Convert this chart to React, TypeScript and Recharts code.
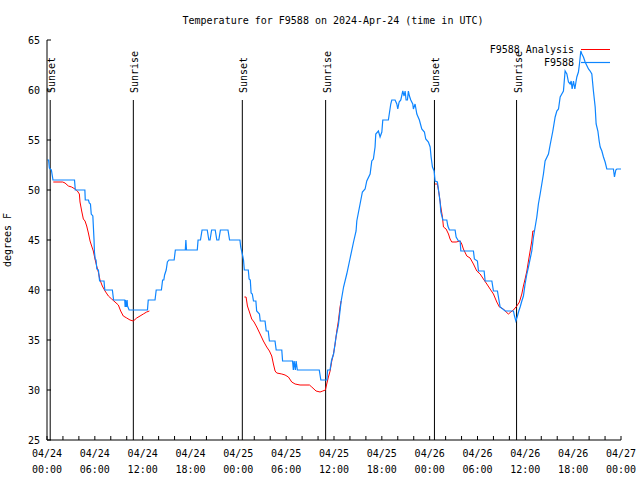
import React from 'react';
import { LineChart, Line, XAxis, YAxis, ReferenceLine } from 'recharts';

const FONT = '"DejaVu Sans Mono", "Liberation Mono", monospace';
const BLUE = '#0d85ff';
const RED = '#ff0000';

// hours since 04/24 00:00 UTC
const xTickHours = [0, 2, 4, 6, 8, 10, 12, 14, 16, 18, 20, 22, 24, 26, 28, 30, 32, 34, 36, 38, 40, 42, 44, 46, 48, 50, 52, 54, 56, 58, 60, 62, 64, 66, 68, 70, 72];
const xLabelHours = [0, 6, 12, 18, 24, 30, 36, 42, 48, 54, 60, 66, 72];
const xTickDates = ['04/24', '04/24', '04/24', '04/24', '04/25', '04/25', '04/25', '04/25', '04/26', '04/26', '04/26', '04/26', '04/27'];
const xTickTimes = ['00:00', '06:00', '12:00', '18:00', '00:00', '06:00', '12:00', '18:00', '00:00', '06:00', '12:00', '18:00', '00:00'];
const yTicks = [25, 30, 35, 40, 45, 50, 55, 60, 65];

const sunsetHours = [0.4, 24.5, 48.6];
const sunriseHours = [10.83, 34.95, 58.9];
const sunLineTopTemp = 59;

// F9588 observations [hour, degF]
const f9588: [number, number][] = [
  [0.05, 53], [0.2, 53], [0.3, 52.2], [0.55, 52], [0.75, 51], [3.45, 51], [3.55, 50], [4.75, 50], [4.8, 49], [5.2, 49],
  [5.3, 48.7], [5.45, 48.6], [5.55, 47.6], [5.75, 47.4], [5.8, 46.6], [5.9, 45], [5.95, 43.8], [6.05, 43.1], [6.15, 43], [6.25, 42.1],
  [6.45, 42], [6.55, 41.2], [6.6, 40.9], [7.15, 40.9], [7.25, 40], [8.2, 40], [8.35, 39], [9.75, 39], [9.8, 38.3], [9.85, 39],
  [9.95, 38.3], [10.05, 39], [10.1, 38.4], [10.3, 38], [12.6, 38], [12.7, 39], [13.55, 39], [13.7, 40], [14.35, 40], [14.5, 41],
  [14.65, 41], [14.75, 41.5], [14.95, 42], [15.1, 42.8], [15.3, 43], [15.95, 43], [16.1, 44], [17.35, 44], [17.42, 45], [17.5, 44],
  [18.85, 44], [18.95, 45], [19.25, 45], [19.45, 46], [20.1, 46], [20.3, 45], [20.45, 45], [20.65, 46], [21.1, 46], [21.3, 45],
  [21.55, 45], [21.75, 46], [22.7, 46], [22.9, 45], [24.2, 45],
  [24.3, 44.3], [24.55, 43.4], [24.65, 43], [24.75, 42], [25.25, 42], [25.35, 41.1], [25.5, 41], [25.6, 39.7], [25.75, 39.6], [25.9, 38.9],
  [26.2, 38.9], [26.3, 37.9], [26.65, 37.6], [26.75, 36.9], [27.35, 36.9], [27.5, 35.9], [27.75, 35.9], [27.9, 34.9], [28.6, 34.9], [28.75, 34],
  [29.45, 34], [29.55, 32.9], [30.8, 32.9], [30.9, 32], [31.0, 32.9], [31.15, 32], [31.25, 32.9], [31.4, 32], [34.15, 32], [34.35, 31],
  [35.1, 31], [35.2, 32], [35.5, 32], [35.7, 33], [35.95, 33.6], [36.25, 35.3], [36.55, 36.5], [36.9, 38.9], [37.2, 40.3], [37.6, 41.6],
  [38.0, 43.1], [38.45, 44.8], [38.77, 45.9], [38.86, 46.9], [39.27, 48.6], [39.56, 49.8], [39.9, 50.1], [40.11, 50.9], [40.53, 51.6], [40.74, 52.9],
  [40.94, 53.1], [41.15, 54.3], [41.24, 55.6], [41.57, 55.9], [41.78, 55.3], [42.0, 55.8], [42.12, 57], [42.82, 57], [43.12, 58.6], [43.25, 59],
  [43.66, 59], [43.88, 58.6], [44.0, 58.1], [44.17, 58.8], [44.38, 59], [44.63, 59.9], [44.79, 59.4], [44.92, 59.9], [45.04, 59], [45.21, 59],
  [45.33, 59.9], [45.46, 59.4], [45.63, 59], [45.88, 58.6], [45.96, 58.1], [46.17, 58.6], [46.39, 57.6], [46.71, 57], [47.01, 56.1], [47.34, 55.8],
  [47.51, 55.1], [47.84, 54.8], [48.06, 54.3], [48.18, 53.3], [48.35, 52.3], [48.56, 51.9], [48.68, 50.9], [48.97, 50.8], [49.18, 49.6], [49.31, 48.8],
  [49.4, 47.8], [49.65, 47], [50.15, 47], [50.28, 46.4], [50.48, 46], [51.19, 46], [51.32, 45.3], [51.61, 44.9], [51.82, 44.9], [51.91, 43.9],
  [53.49, 43.9], [53.61, 43.1], [53.99, 42.9], [54.12, 41.9], [54.83, 41.9], [54.96, 40.9], [55.8, 40.9], [56.0, 39.9], [56.5, 39.9], [56.71, 38.9],
  [56.84, 38.3], [57.47, 37.9], [58.51, 37.9], [58.64, 37.4], [58.81, 36.9], [59.01, 37.4], [59.18, 37.9], [59.35, 38.3], [59.56, 38.9], [59.76, 39.4],
  [59.97, 40.6], [60.19, 41.6], [60.39, 42.3], [60.81, 43.9], [61.02, 45.3], [61.23, 46.3], [61.44, 47.3], [61.64, 48.6], [61.86, 49.6], [62.27, 51.6],
  [62.48, 52.9], [62.9, 53.6], [63.11, 54.5], [63.45, 55.9], [63.74, 57.3], [63.95, 57.9], [64.16, 58.1], [64.37, 59.3], [64.78, 59.9], [64.99, 61.9],
  [65.21, 61.6], [65.41, 60.8], [65.62, 60.6], [65.75, 60.9], [65.87, 60.1], [66.04, 60.9], [66.21, 60.1], [66.37, 60.9], [66.46, 61.3], [66.66, 61.8],
  [66.79, 62.6], [66.96, 63.9], [67.09, 63.6], [67.29, 63.3], [67.5, 62.8], [67.92, 62.1], [68.13, 61.9], [68.34, 61.6], [68.54, 59.9], [68.76, 58.3],
  [68.88, 56.6], [69.1, 55.9], [69.26, 54.9], [69.39, 54.3], [69.6, 53.9], [69.8, 53.3], [70.01, 52.8], [70.22, 52.1], [71.05, 52.1], [71.18, 51.3],
  [71.35, 52], [71.48, 52.1], [72, 52.1],
];

// F9588 Analysis, night 1
const analysisNight1: [number, number][] = [
  [0.79, 50.8], [1.97, 50.8], [2.26, 50.7], [2.68, 50.4], [3.09, 50.3], [3.51, 50.1], [3.81, 49.9], [4.06, 49.6], [4.14, 48.8], [4.35, 47.9],
  [4.56, 47.1], [4.77, 46.9], [4.98, 46.4], [5.19, 45.7], [5.4, 44.9], [5.6, 44.4], [5.81, 43.9], [6.02, 43.1], [6.23, 42.4], [6.44, 41.8],
  [6.65, 41], [6.94, 40.4], [7.28, 39.9], [7.7, 39.4], [8.11, 39.1], [8.53, 38.8], [8.95, 38.5], [9.24, 37.9], [9.57, 37.4], [10.0, 37.2],
  [10.41, 37], [10.83, 36.9], [11.25, 37.2], [11.67, 37.4], [12.08, 37.6], [12.5, 37.8], [12.84, 37.9],
];
// F9588 Analysis, night 2
const analysisNight2: [number, number][] = [
  [24.76, 39.3], [24.97, 39.3], [25.14, 38.4], [25.35, 37.9], [25.68, 37.1], [25.97, 36.8], [26.31, 36.3], [26.73, 35.6], [27.14, 34.9], [27.56, 34.3],
  [27.9, 33.9], [28.19, 33.4], [28.4, 32.6], [28.61, 31.9], [28.82, 31.7], [29.45, 31.6], [29.86, 31.5], [30.28, 31.3], [30.7, 30.8], [31.12, 30.6],
  [31.74, 30.5], [32.92, 30.5], [33.21, 30.3], [33.75, 29.9], [34.25, 29.8], [34.59, 29.9], [34.92, 30], [35.09, 30.6], [35.3, 31.3], [35.51, 31.9],
  [35.72, 32.9], [35.93, 33.6], [36.14, 34.6], [36.35, 35.9], [36.55, 36.9], [36.76, 38.3], [36.89, 38.9],
];
// F9588 Analysis, night 3
const analysisNight3: [number, number][] = [
  [48.68, 50.6], [48.97, 50.6], [49.18, 49.6], [49.4, 48.3], [49.6, 47.3], [49.73, 46.3], [50.06, 46.1], [50.36, 45.6], [50.56, 45.1], [50.77, 44.8],
  [51.32, 44.8], [51.82, 44.9], [52.03, 44.6], [52.23, 44.1], [52.66, 43.4], [53.07, 43.2], [53.49, 42.6], [53.91, 41.9], [54.33, 41.6], [54.74, 41.1],
  [55.17, 40.6], [55.58, 40.1], [56.0, 39.6], [56.42, 38.8], [56.75, 38.3], [57.25, 38.1], [57.59, 37.8], [57.88, 37.6], [58.18, 37.8], [58.51, 38],
  [58.93, 38.4], [59.26, 38.8], [59.56, 39.6], [59.76, 40.4], [59.97, 41.1], [60.19, 41.9], [60.39, 42.9], [60.6, 43.9], [60.81, 44.9], [60.94, 45.9],
  [61.14, 45.9],
];

type Row = { h: number; t: number | null };
const toRows = (pairs: [number, number][]): Row[] => pairs.map(([h, t]) => ({ h, t }));
const observedRows = toRows(f9588);
const analysisRows: Row[] = [
  ...toRows(analysisNight1),
  { h: 18, t: null },
  ...toRows(analysisNight2),
  { h: 42, t: null },
  ...toRows(analysisNight3),
];

const XTick = (props: any) => {
  const { x, y, payload } = props;
  const idx = xLabelHours.indexOf(payload.value);
  if (idx < 0) return <g />;
  return (
    <g>
      <text x={x} y={y + 17} textAnchor="middle" fontSize={10} fontFamily={FONT} fill="#000">
        {xTickDates[idx]}
      </text>
      <text x={x} y={y + 33} textAnchor="middle" fontSize={10} fontFamily={FONT} fill="#000">
        {xTickTimes[idx]}
      </text>
    </g>
  );
};

const SunLabel = (props: any) => {
  const vb = props.viewBox || { x: 0, y: 0 };
  const x = vb.x + 5;
  const y = vb.y - 7;
  return (
    <text x={x} y={y} transform={`rotate(-90 ${x} ${y})`} fontSize={10} fontFamily={FONT} fill="#000">
      {props.text}
    </text>
  );
};

const sunEvents = [
  ...sunsetHours.map((h) => ({ h, text: 'Sunset' })),
  ...sunriseHours.map((h) => ({ h, text: 'Sunrise' })),
];

export default function App() {
  return (
    <div style={{ position: 'absolute', left: 0, top: 0, width: 640, height: 480, background: '#fff' }}>
      <LineChart
        width={640}
        height={480}
        margin={{ top: 40, right: 19, bottom: 0, left: 0 }}
        style={{ position: 'absolute', left: 0, top: 0 }}
      >
        <XAxis
          dataKey="h"
          type="number"
          domain={[0, 72]}
          ticks={xTickHours}
          interval={0}
          height={40}
          tickSize={-4}
          tickMargin={4}
          tick={<XTick />}
          stroke="#000"
          allowDataOverflow
        />
        <XAxis
          xAxisId="top"
          orientation="top"
          dataKey="h"
          type="number"
          domain={[0, 72]}
          ticks={xTickHours}
          interval={0}
          height={0}
          tickSize={-4}
          tick={false}
          stroke="#000"
          allowDataOverflow
        />
        <YAxis
          type="number"
          domain={[25, 65]}
          ticks={yTicks}
          interval={0}
          width={47}
          tickSize={-4}
          tickMargin={11}
          tick={{ fontSize: 10, fontFamily: FONT, fill: '#000' }}
          stroke="#000"
          allowDataOverflow
        />
        <YAxis
          yAxisId="right"
          orientation="right"
          type="number"
          domain={[25, 65]}
          ticks={yTicks}
          interval={0}
          width={0}
          tickSize={-4}
          tick={false}
          stroke="#000"
          allowDataOverflow
        />
        {sunEvents.map((ev, i) => (
          <ReferenceLine
            key={`sun-${i}`}
            segment={[
              { x: ev.h, y: sunLineTopTemp },
              { x: ev.h, y: 25 },
            ]}
            stroke="#000"
            strokeWidth={1}
            label={<SunLabel text={ev.text} />}
          />
        ))}
        <Line
          data={analysisRows}
          dataKey="t"
          type="linear"
          stroke={RED}
          strokeWidth={1}
          dot={false}
          activeDot={false}
          connectNulls={false}
          isAnimationActive={false}
        />
        <Line
          data={observedRows}
          dataKey="t"
          type="linear"
          stroke={BLUE}
          strokeWidth={1.2}
          dot={false}
          activeDot={false}
          isAnimationActive={false}
        />
      </LineChart>
      <svg
        width={640}
        height={480}
        style={{ position: 'absolute', left: 0, top: 0, pointerEvents: 'none' }}
      >
        <text x={333} y={24} textAnchor="middle" fontSize={10} fontFamily={FONT} fill="#000">
          Temperature for F9588 on 2024-Apr-24 (time in UTC)
        </text>
        <text
          x={11}
          y={240}
          textAnchor="middle"
          fontSize={10}
          fontFamily={FONT}
          fill="#000"
          transform="rotate(-90 11 240)"
        >
          degrees F
        </text>
        <text x={574} y={53} textAnchor="end" fontSize={10} fontFamily={FONT} fill="#000">
          F9588 Analysis
        </text>
        <line x1={581} y1={49.5} x2={610} y2={49.5} stroke={RED} strokeWidth={1} />
        <text x={574} y={66} textAnchor="end" fontSize={10} fontFamily={FONT} fill="#000">
          F9588
        </text>
        <line x1={581} y1={62.5} x2={610} y2={62.5} stroke={BLUE} strokeWidth={1.2} />
      </svg>
    </div>
  );
}
